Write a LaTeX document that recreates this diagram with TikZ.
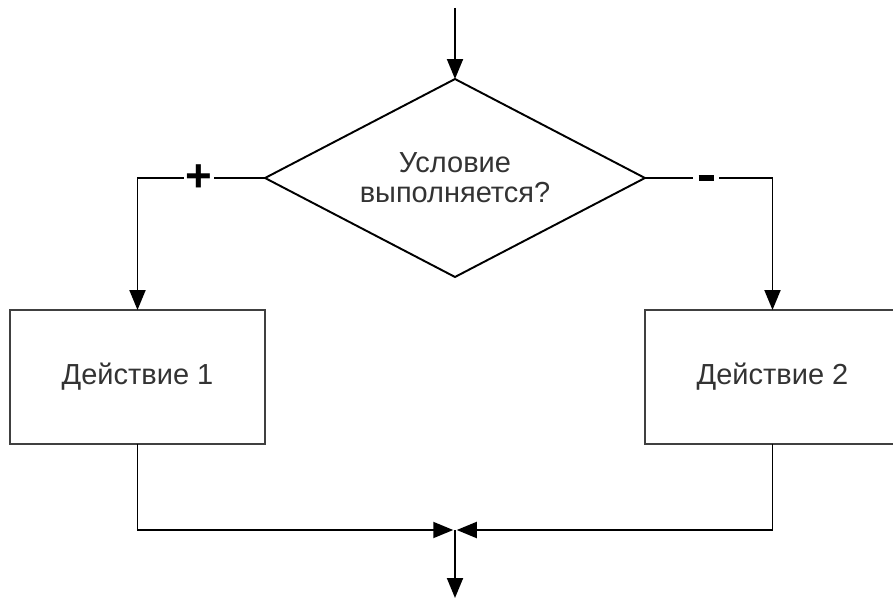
\documentclass[tikz,border=0pt]{standalone}
\usepackage{fontspec}
\setmainfont{Liberation Sans}
\usetikzlibrary{shapes.geometric}
\usetikzlibrary{arrows.meta}

\begin{document}
\begin{tikzpicture}[x=0.02cm,y=-0.02cm,->,>={Triangle[width=0.32cm,length=0.4cm]},line width=1.1pt,
	font=\fontsize{16.5}{17}\selectfont,
	decision node/.style={diamond,aspect=1.9,draw,align=center,text=black!80,minimum width=7.6cm,minimum height=3.96cm,inner sep=0pt,outer sep=0pt},
	action node/.style={rectangle,draw=black!75,line width=1.4pt,text=black!80,minimum width=5.1cm,minimum height=2.68cm,outer sep=0pt},
	sign/.style={fill=white,inner sep=1pt,font=\fontsize{26}{26}\bfseries\selectfont}]
		
		\useasboundingbox (0,0) rectangle (893,598);
		
		\coordinate (start) at (455,8);
		\node[decision node] at (455,178) (cond) {Условие\\выполняется?};
		\node[action node] at (137.5,377) (act1) {Действие 1};
		\node[action node] at (772.5,377) (act2) {Действие 2};
		\coordinate (join) at (455,530);
		\coordinate (end) at (455,598);
		
		\draw (start) -- (cond);
		\draw (cond.west) -| node[sign,pos=0.26] {+} (act1);
		\draw (cond.east) -| node[sign,pos=0.24,inner sep=3pt] {\rule{0.3cm}{3pt}} (act2);
		\draw[shorten >=1pt] (act1) |- (join);
		\draw[shorten >=1pt] (act2) |- (join);
		\draw (join) -- (end);
		
		\end{tikzpicture}
\end{document}
